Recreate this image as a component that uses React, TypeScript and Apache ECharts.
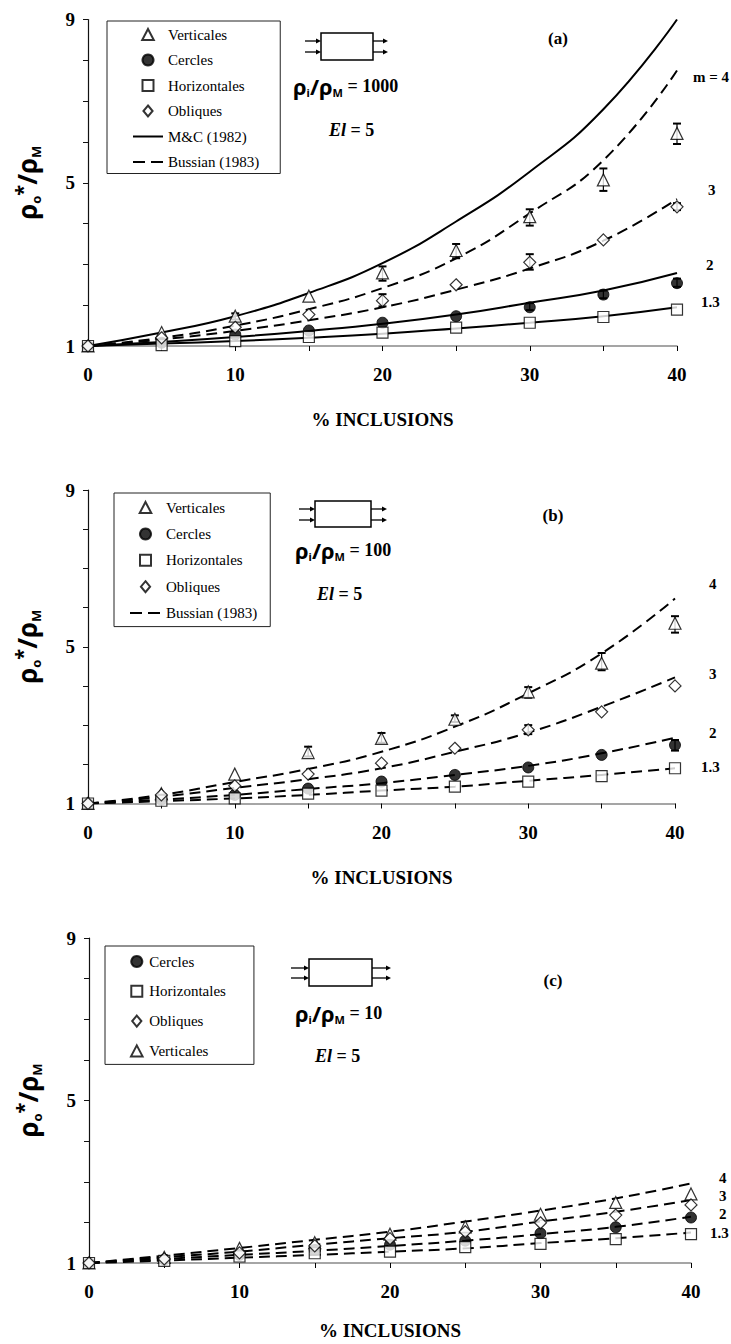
import React, { useEffect, useRef } from "react";
import * as echarts from "echarts";

// ---------------- data ----------------
const pct = [0, 5, 10, 15, 20, 25, 30, 35, 40];

// panel (a)  rho_i/rho_M = 1000
const aVert = [1.0, 1.33, 1.73, 2.22, 2.79, 3.34, 4.17, 5.07, 6.21];
const aCirc = [1.0, 1.08, 1.28, 1.38, 1.57, 1.73, 1.95, 2.26, 2.54];
const aHoriz = [1.0, 1.02, 1.12, 1.22, 1.33, 1.45, 1.57, 1.71, 1.89];
const aObl = [1.0, 1.2, 1.46, 1.77, 2.11, 2.5, 3.05, 3.6, 4.41];
const aMC = [1.0, 1.33, 1.73, 2.3, 3.03, 4.05, 5.27, 6.8, 9.0];
const aB4 = [1.0, 1.2, 1.5, 1.9, 2.42, 3.15, 4.25, 5.55, 7.75];
const aB3 = [1.0, 1.16, 1.37, 1.63, 1.95, 2.38, 2.9, 3.58, 4.6];
const aB2 = [1.0, 1.1, 1.22, 1.37, 1.545, 1.77, 2.06, 2.36, 2.79];
const aB13 = [1.0, 1.06, 1.12, 1.2, 1.3, 1.43, 1.57, 1.73, 1.95];
const aErr = [
  [10, 1.65, 1.8], [20, 2.6, 2.95], [25, 3.15, 3.5], [30, 3.95, 4.35], [35, 4.8, 5.35], [40, 5.95, 6.45],
  [20, 1.97, 2.27], [30, 2.87, 3.25], [40, 4.33, 4.5],
  [30, 1.88, 2.05], [35, 2.17, 2.36], [40, 2.45, 2.65],
];

// panel (b)  rho_i/rho_M = 100
const bVert = [1.0, 1.25, 1.75, 2.3, 2.66, 3.15, 3.85, 4.58, 5.6];
const bCirc = [1.0, 1.1, 1.22, 1.38, 1.56, 1.73, 1.92, 2.24, 2.49];
const bHoriz = [1.0, 1.07, 1.13, 1.25, 1.33, 1.43, 1.56, 1.7, 1.9];
const bObl = [1.0, 1.22, 1.45, 1.75, 2.03, 2.41, 2.88, 3.34, 4.0];
const bB4 = [1.0, 1.22, 1.55, 1.88, 2.32, 2.96, 3.81, 4.83, 6.23];
const bB3 = [1.0, 1.17, 1.4, 1.62, 1.9, 2.32, 2.81, 3.47, 4.22];
const bB2 = [1.0, 1.1, 1.22, 1.37, 1.52, 1.73, 1.96, 2.28, 2.68];
const bB13 = [1.0, 1.06, 1.13, 1.22, 1.33, 1.43, 1.58, 1.73, 1.9];
const bErr = [
  [15, 2.2, 2.45], [20, 2.55, 2.8], [25, 3.08, 3.25], [30, 3.7, 3.97], [35, 4.4, 4.84], [40, 5.36, 5.78],
  [30, 2.77, 3.0], [40, 2.35, 2.62],
];

// panel (c)  rho_i/rho_M = 10
const cVert = [1.0, 1.14, 1.36, 1.5, 1.71, 1.89, 2.2, 2.49, 2.7];
const cCirc = [1.0, 1.08, 1.2, 1.32, 1.45, 1.55, 1.73, 1.88, 2.12];
const cHoriz = [1.0, 1.05, 1.16, 1.24, 1.28, 1.39, 1.47, 1.59, 1.71];
const cObl = [1.0, 1.1, 1.25, 1.42, 1.6, 1.77, 1.99, 2.18, 2.43];
const cB4 = [1.0, 1.18, 1.37, 1.57, 1.77, 2.02, 2.29, 2.59, 2.96];
const cB3 = [1.0, 1.14, 1.28, 1.45, 1.61, 1.77, 2.02, 2.26, 2.55];
const cB2 = [1.0, 1.1, 1.2, 1.3, 1.42, 1.55, 1.71, 1.89, 2.14];
const cB13 = [1.0, 1.06, 1.13, 1.2, 1.28, 1.36, 1.49, 1.61, 1.75];

const yTickLabels = [1, 5, 9];
const xTickLabels = [0, 10, 20, 30, 40];
const panelTags = ["(a)", "(b)", "(c)"];
const ratios = ["1000", "100", "10"];

// ---------------- styling ----------------
const SERIF = "'Liberation Serif', 'Times New Roman', serif";
const SANS = "'Noto Sans', 'DejaVu Sans', sans-serif";

const ICONS: Record<string, string> = {
  triangle: "path://M5,0L10,9.5L0,9.5Z",
  circle: "path://M5,0A5,5,0,1,1,4.999,0Z",
  rect: "path://M0,0L10,0L10,10L0,10Z",
  diamond: "path://M5,0L10,6L5,12L0,6Z",
};

const pairs = (ys: number[]) => pct.map((x, i) => [x, ys[i]]);

const grids = [
  { left: 88, top: 19.5, width: 589, height: 326.5 },
  { left: 88, top: 490, width: 587, height: 313.5 },
  { left: 89, top: 938, width: 602, height: 325 },
];
const nameGaps = [64, 64, 58];

function xAxis(i: number) {
  return {
    gridIndex: i,
    type: "value",
    min: 0,
    max: 40,
    interval: 5,
    name: "% INCLUSIONS",
    nameLocation: "middle",
    nameGap: nameGaps[i],
    nameTextStyle: { fontFamily: SERIF, fontWeight: "bold", fontSize: 19, color: "#000" },
    axisLine: { show: true, lineStyle: { color: "#888", width: 1.5 } },
    axisTick: { show: true, length: 5, lineStyle: { color: "#000", width: 1 } },
    axisLabel: {
      formatter: (v: number) => (xTickLabels.includes(v) ? String(v) : ""),
      margin: 19,
      fontFamily: SERIF,
      fontWeight: "bold",
      fontSize: 19,
      color: "#000",
    },
    splitLine: { show: false },
  };
}

function yAxis(i: number) {
  return {
    gridIndex: i,
    type: "value",
    min: 1,
    max: 9,
    interval: 1,
    name: "{r|ρ}{s|o}{st|*}{r|/ρ}{s|M}",
    nameLocation: "middle",
    nameRotate: 90,
    nameGap: 46,
    nameTextStyle: {
      rich: {
        r: { fontFamily: SANS, fontWeight: "bold", fontSize: 26, color: "#000", lineHeight: 30 },
        s: { fontFamily: SANS, fontWeight: "bold", fontSize: 13, color: "#000", verticalAlign: "bottom", lineHeight: 14 },
        st: { fontFamily: SANS, fontWeight: "bold", fontSize: 20, color: "#000", verticalAlign: "top", lineHeight: 20 },
      },
    },
    axisLine: { show: true, lineStyle: { color: "#111", width: 1.2 } },
    axisTick: { show: true, length: 5, lineStyle: { color: "#111", width: 1 } },
    axisLabel: {
      formatter: (v: number) => (yTickLabels.includes(v) ? String(v) : ""),
      margin: 13,
      fontFamily: SERIF,
      fontWeight: "bold",
      fontSize: 19,
      color: "#000",
    },
    splitLine: { show: false },
  };
}

const markerStyle = { color: "#fff", borderColor: "#000", borderWidth: 1.2 };
const filledStyle = { color: "#000", borderColor: "#000", borderWidth: 1 };

function scatter(name: string, ys: number[], i: number, symbol: string, size: number, filled = false) {
  return {
    type: "scatter",
    name,
    xAxisIndex: i,
    yAxisIndex: i,
    symbol,
    symbolSize: size,
    itemStyle: filled ? filledStyle : markerStyle,
    data: pairs(ys),
    z: 6,
  };
}

function curve(name: string, ys: number[], i: number, dashed: boolean, label: string, offset: number[]) {
  return {
    type: "line",
    name,
    xAxisIndex: i,
    yAxisIndex: i,
    symbol: "none",
    showSymbol: false,
    smooth: 0.5,
    lineStyle: { color: "#000", width: 2, type: dashed ? [11, 6] : "solid" },
    itemStyle: { color: "#000" },
    data: pairs(ys),
    z: 2,
    endLabel: {
      show: label !== "",
      formatter: label,
      offset,
      fontFamily: SERIF,
      fontWeight: "bold",
      fontSize: 15,
      color: "#000",
    },
  };
}

function errorBars(data: number[][], i: number) {
  return {
    type: "custom",
    name: "err" + i,
    xAxisIndex: i,
    yAxisIndex: i,
    encode: { x: 0, y: [1, 2] },
    data,
    z: 4,
    renderItem: (params: any, api: any) => {
      const x = api.value(0);
      const p1 = api.coord([x, api.value(1)]);
      const p2 = api.coord([x, api.value(2)]);
      const w = 4;
      return {
        type: "group",
        children: [
          { type: "line", shape: { x1: p1[0], y1: p1[1], x2: p2[0], y2: p2[1] }, style: { stroke: "#000", lineWidth: 1.2 } },
          { type: "line", shape: { x1: p1[0] - w, y1: p1[1], x2: p1[0] + w, y2: p1[1] }, style: { stroke: "#000", lineWidth: 2 } },
          { type: "line", shape: { x1: p2[0] - w, y1: p2[1], x2: p2[0] + w, y2: p2[1] }, style: { stroke: "#000", lineWidth: 2 } },
        ],
      };
    },
  };
}

// annotation pieces (cell icon, ratio text, El text, panel tag)
function cellIcon(bx: number, by: number, bw: number, bh: number, y1: number, y2: number, lx: number, rx: number) {
  const els: any[] = [
    { type: "rect", shape: { x: bx, y: by, width: bw, height: bh }, style: { fill: "#fff", stroke: "#000", lineWidth: 1.5 } },
  ];
  const arrow = (x0: number, x1: number, y: number) => {
    els.push({ type: "line", shape: { x1: x0, y1: y, x2: x1 - 4, y2: y }, style: { stroke: "#000", lineWidth: 1.3 } });
    els.push({ type: "polygon", shape: { points: [[x1 - 5, y - 2.5], [x1, y], [x1 - 5, y + 2.5]] }, style: { fill: "#000" } });
  };
  arrow(lx, bx, y1);
  arrow(lx, bx, y2);
  arrow(bx + bw, rx, y1);
  arrow(bx + bw, rx, y2);
  return els;
}

function ratioText(x: number, y: number, ratio: string) {
  return {
    type: "text",
    x,
    y,
    style: {
      text: "{r|ρ}{s|i}{r|/ρ}{s|M}{e| = " + ratio + "}",
      verticalAlign: "middle",
      textVerticalAlign: "middle",
      rich: {
        r: { fontFamily: SANS, fontWeight: "bold", fontSize: 22, fill: "#000", lineHeight: 24 },
        s: { fontFamily: SANS, fontWeight: "bold", fontSize: 11, fill: "#000", verticalAlign: "bottom", lineHeight: 12 },
        e: { fontFamily: SERIF, fontWeight: "bold", fontSize: 18, fill: "#000", lineHeight: 24 },
      },
    },
  };
}

function elText(x: number, y: number) {
  return {
    type: "text",
    x,
    y,
    style: {
      text: "{i|El}{e| = 5}",
      verticalAlign: "middle",
      textVerticalAlign: "middle",
      rich: {
        i: { fontFamily: SERIF, fontStyle: "italic", fontWeight: "bold", fontSize: 18, fill: "#000" },
        e: { fontFamily: SERIF, fontWeight: "bold", fontSize: 18, fill: "#000" },
      },
    },
  };
}

function tagText(x: number, y: number, t: string) {
  return {
    type: "text",
    x,
    y,
    style: {
      text: t,
      align: "center",
      textAlign: "center",
      verticalAlign: "middle",
      textVerticalAlign: "middle",
      fontFamily: SERIF,
      fontWeight: "bold",
      fontSize: 17,
      fill: "#000",
    },
  };
}

const legendBase = {
  orient: "vertical",
  selectedMode: false,
  borderColor: "#222",
  borderWidth: 1,
  backgroundColor: "#fff",
  itemHeight: 11,
  symbolKeepAspect: true,
  textStyle: { fontFamily: SERIF, fontSize: 15, color: "#000" },
};

const symItem = (name: string, kind: string) => ({ name, icon: ICONS[kind] });
const lineItem = (name: string, dashed: boolean) => ({
  name,
  itemStyle: { opacity: 0 },
  lineStyle: dashed ? { type: [12, 6], width: 2 } : { width: 2 },
});

function buildOption() {
  return {
    animation: false,
    backgroundColor: "#fff",
    grid: grids.map((g) => ({ ...g, containLabel: false, outerBoundsMode: "none" })),
    xAxis: [0, 1, 2].map(xAxis),
    yAxis: [0, 1, 2].map(yAxis),
    legend: [
      {
        ...legendBase,
        left: 107,
        top: 21,
        padding: [6, 21, 4, 25],
        itemGap: 10.5,
        itemWidth: 30,
        data: [
          symItem("Verticales", "triangle"),
          symItem("Cercles", "circle"),
          symItem("Horizontales", "rect"),
          symItem("Obliques", "diamond"),
          lineItem("M&C (1982)", false),
          lineItem("Bussian (1983)", true),
        ],
      },
      {
        ...legendBase,
        left: 114,
        top: 493,
        padding: [7, 13, 6, 15],
        itemGap: 11.4,
        itemWidth: 31,
        data: [
          symItem("Verticales", "triangle"),
          symItem("Cercles", "circle"),
          symItem("Horizontales", "rect"),
          symItem("Obliques", "diamond"),
          lineItem("Bussian (1983)", true),
        ],
      },
      {
        ...legendBase,
        left: 105,
        top: 946,
        padding: [8, 28, 6, 25],
        itemGap: 14.8,
        itemWidth: 15,
        data: [
          symItem("Cercles", "circle"),
          symItem("Horizontales", "rect"),
          symItem("Obliques", "diamond"),
          symItem("Verticales", "triangle"),
        ],
      },
    ],
    series: [
      // panel a
      curve("M&C (1982)", aMC, 0, false, "", [0, 0]),
      curve("Bussian (1983)", aB4, 0, true, "m = 4", [8, 6]),
      curve("Bussian (1983)", aB3, 0, true, "3", [23, -9]),
      curve("M&C (1982)", aB2, 0, false, "2", [21, -8]),
      curve("M&C (1982)", aB13, 0, false, "1.3", [16, -5]),
      errorBars(aErr, 0),
      scatter("Verticales", aVert, 0, "triangle", 12),
      scatter("Cercles", aCirc, 0, "circle", 11, true),
      scatter("Horizontales", aHoriz, 0, "rect", 11),
      scatter("Obliques", aObl, 0, "diamond", 12),
      // panel b
      curve("Bussian (1983)", bB4, 1, true, "4", [26, -15]),
      curve("Bussian (1983)", bB3, 1, true, "3", [26, -3]),
      curve("Bussian (1983)", bB2, 1, true, "2", [26, -5]),
      curve("Bussian (1983)", bB13, 1, true, "1.3", [18, -1]),
      errorBars(bErr, 1),
      scatter("Verticales", bVert, 1, "triangle", 12),
      scatter("Cercles", bCirc, 1, "circle", 11, true),
      scatter("Horizontales", bHoriz, 1, "rect", 11),
      scatter("Obliques", bObl, 1, "diamond", 12),
      // panel c
      curve("Bussian (1983)", cB4, 2, true, "4", [20, -5]),
      curve("Bussian (1983)", cB3, 2, true, "3", [20, -4]),
      curve("Bussian (1983)", cB2, 2, true, "2", [20, -3]),
      curve("Bussian (1983)", cB13, 2, true, "1.3", [11, 0]),
      scatter("Verticales", cVert, 2, "triangle", 12),
      scatter("Cercles", cCirc, 2, "circle", 11, true),
      scatter("Horizontales", cHoriz, 2, "rect", 11),
      scatter("Obliques", cObl, 2, "diamond", 12),
    ],
    graphic: [
      ...cellIcon(321, 33, 52, 27, 41, 52, 305, 388),
      ratioText(293, 86, ratios[0]),
      elText(329, 130),
      tagText(558, 38, panelTags[0]),
      ...cellIcon(315, 501, 56, 26, 509, 520, 299, 387),
      ratioText(295, 550, ratios[1]),
      elText(317, 594),
      tagText(553, 515, panelTags[1]),
      ...cellIcon(309, 959, 63, 27, 968, 978, 291, 391),
      ratioText(295, 1013, ratios[2]),
      elText(315, 1056),
      tagText(553, 980, panelTags[2]),
    ],
  };
}

export default function App() {
  const ref = useRef<HTMLDivElement>(null);
  useEffect(() => {
    if (!ref.current) return;
    const chart = echarts.init(ref.current, null, { renderer: "svg" });
    chart.setOption(buildOption() as any);
    return () => chart.dispose();
  }, []);
  return (
    <div
      ref={ref}
      style={{ position: "absolute", left: 0, top: 0, width: 731, height: 1344, background: "#fff" }}
    />
  );
}
